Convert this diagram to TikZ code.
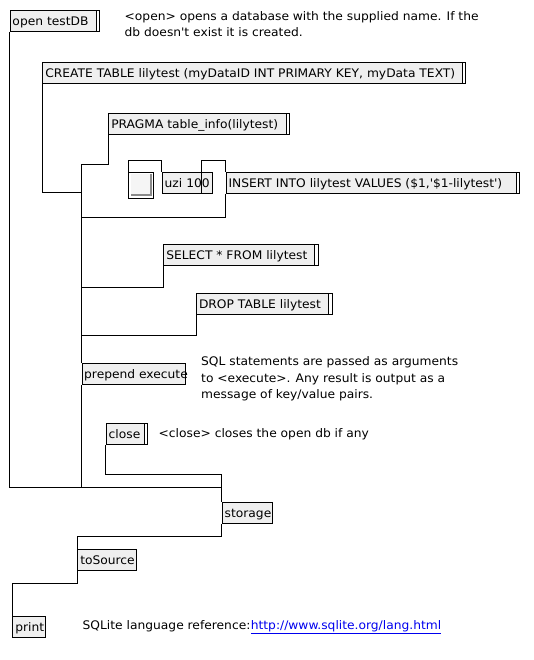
\documentclass[tikz,border=0pt]{standalone}
\usepackage{fontspec}
\setmainfont{DejaVu Sans}[FakeStretch=1.04]
\usetikzlibrary{calc}
\definecolor{boxgray}{HTML}{EFEFEF}
\definecolor{linkblue}{HTML}{0000EE}
\definecolor{shadowgray}{HTML}{8A8A8A}
\newcommand{\pdfont}{\fontsize{11.8}{16.5}\selectfont}
\begin{document}
\begin{tikzpicture}[x=1pt,y=-1pt,
  box/.style={draw, line width=1pt, fill=boxgray, anchor=north west,
    inner xsep=2.5pt, inner ysep=0pt, minimum height=21pt,
    text height=10pt, text depth=1pt, align=left, font=\pdfont},
  msgbox/.style={box, path picture={
    \fill[white] ([xshift=-3.5pt]path picture bounding box.north east) rectangle (path picture bounding box.south east);
    \draw[line width=1pt] ([xshift=-3.5pt]path picture bounding box.north east) -- ([xshift=-3.5pt]path picture bounding box.south east);}},
  cord/.style={line width=1pt},
  comment/.style={anchor=north west, inner sep=0pt, align=left, font=\pdfont}]
\useasboundingbox (0,0) rectangle (534,660);

% boxes
\node[msgbox, text width=84.5pt] (open) at (9.5,10) {open testDB};
\node[msgbox, text width=417.7pt] (create) at (42.3,62.3) {CREATE TABLE lilytest (myDataID INT PRIMARY KEY, myData TEXT)};
\node[msgbox, text width=175.7pt] (pragma) at (108.3,113) {PRAGMA table\_info(lilytest)};
\node[draw, line width=1pt, fill=white, anchor=north west, inner sep=0pt, minimum width=25pt, minimum height=26pt,
  path picture={
    \fill[shadowgray] ([shift={(2pt,-2pt)}]path picture bounding box.north west) rectangle ([shift={(-2pt,2pt)}]path picture bounding box.south east);
    \fill[white!96!black] ([shift={(2pt,-2pt)}]path picture bounding box.north west) rectangle ([shift={(-4pt,4pt)}]path picture bounding box.south east);
  }] (bang) at (128.3,171.7) {};
\node[box, text width=45pt] (uzi) at (161.7,171.7) {uzi 100};
\node[msgbox, text width=288.5pt] (insert) at (225.5,172) {INSERT INTO lilytest VALUES (\$1,\textquotesingle\$1-lilytest\textquotesingle)};
\node[msgbox, text width=149.4pt] (select) at (163.3,244.3) {SELECT * FROM lilytest};
\node[msgbox, text width=130.7pt] (drop) at (196,293.3) {DROP TABLE lilytest};
\node[box, text width=99.3pt, inner xsep=2pt] (prepend) at (81.7,363.3) {\mbox{prepend execute}};
\node[msgbox, text width=36.6pt] (close) at (105.7,423.3) {close};
\node[box, text width=45pt] (storage) at (221.7,502.3) {storage};
\node[box, text width=54pt] (tosource) at (77.3,549.3) {toSource};
\node[box, text width=28pt] (print) at (12.3,616) {print};

% comments
\node[comment] (c1) at (124.5,11) {<open> opens a database with the supplied name. If the\\db doesn\textquotesingle t exist it is created.};
\node[comment] (c2) at (201,356.5) {SQL statements are passed as arguments\\to <execute>. Any result is output as a\\message of key/value pairs.};
\node[comment] (c3) at (158.5,428) {<close> closes the open db if any};
\node[comment] (c4) at (82.5,620) {SQLite language reference:};
\node[comment, text=linkblue, anchor=north west] (c5) at (c4.north east) {\underline{http://www.sqlite.org/lang.html}};

% bend coordinates
\coordinate (b1) at (9.5,487);
\coordinate (b2) at (221.7,487);
\coordinate (b3) at (42.3,193);
\coordinate (b4) at (81.7,193);
\coordinate (b5) at (108.3,164.3);
\coordinate (b6) at (81.7,164.3);
\coordinate (b7) at (128.3,160.3);
\coordinate (b8) at (161.7,160.3);
\coordinate (b9) at (201.7,160.3);
\coordinate (b10) at (225.5,160.3);
\coordinate (b11) at (225.5,217.7);
\coordinate (b12) at (81.7,217.7);
\coordinate (b13) at (163.3,287.3);
\coordinate (b14) at (81.7,287.3);
\coordinate (b15) at (196,335.7);
\coordinate (b16) at (81.7,335.7);
\coordinate (b17) at (81.7,487);
\coordinate (b18) at (105.7,474.3);
\coordinate (b19) at (221.7,474.3);
\coordinate (b20) at (221.7,536.3);
\coordinate (b21) at (77.3,536.3);
\coordinate (b22) at (77.3,583.3);
\coordinate (b23) at (12.3,583.3);
\coordinate (uziout) at ($(uzi.south west)+(40,0)$);

% cords
\draw[cord] (open.south west) -- (b1) -- (b2) -- (storage.north west);
\draw[cord] (create.south west) -- (b3) -- (b4);
\draw[cord] (pragma.south west) -- (b5) -- (b6) -- (prepend.north west);
\draw[cord] (bang.north west) -- (b7) -- (b8) -- (uzi.north west);
\draw[cord] (uziout) -- (b9) -- (b10) -- (insert.north west);
\draw[cord] (insert.south west) -- (b11) -- (b12);
\draw[cord] (select.south west) -- (b13) -- (b14);
\draw[cord] (drop.south west) -- (b15) -- (b16);
\draw[cord] (prepend.south west) -- (b17);
\draw[cord] (close.south west) -- (b18) -- (b19) -- (storage.north west);
\draw[cord] (storage.south west) -- (b20) -- (b21) -- (tosource.north west);
\draw[cord] (tosource.south west) -- (b22) -- (b23) -- (print.north west);
\end{tikzpicture}
\end{document}
